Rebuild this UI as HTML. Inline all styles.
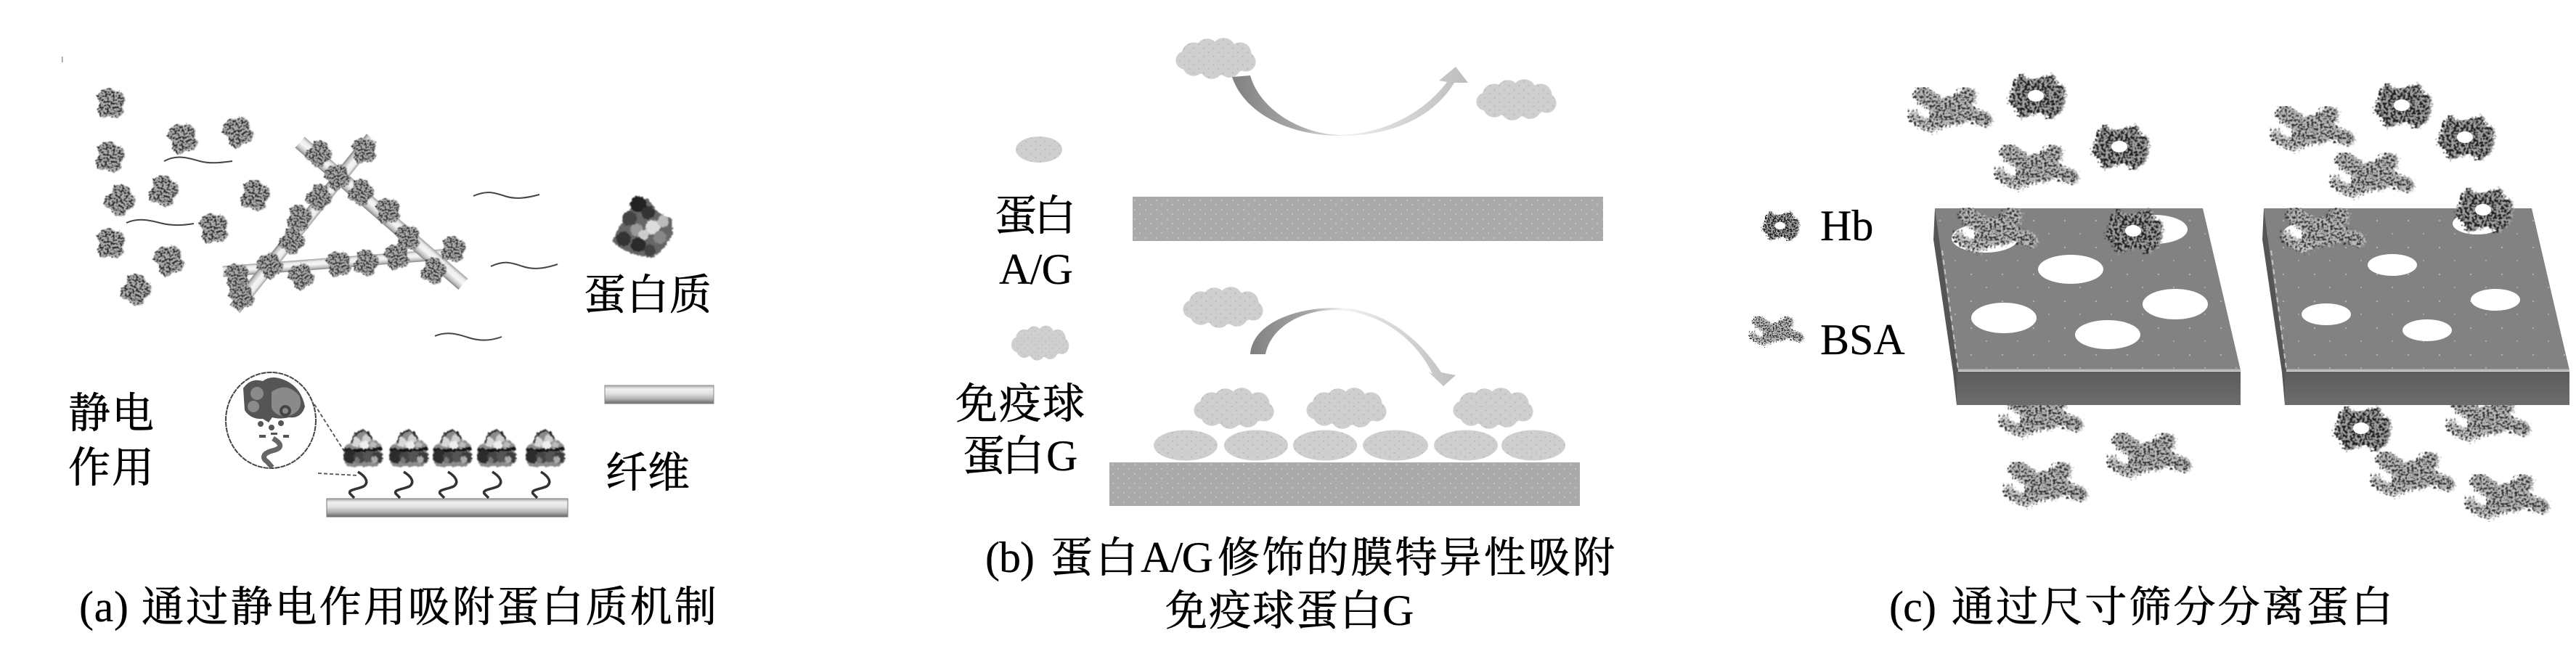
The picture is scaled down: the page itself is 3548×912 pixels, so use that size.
<!DOCTYPE html>
<html><head><meta charset="utf-8"><style>
html,body{margin:0;padding:0;background:#fff}
svg{display:block}
text{font-family:"Liberation Serif","Noto Serif CJK SC",serif;fill:#000;font-size:58px;stroke:#000;stroke-width:.7px}
text.l{stroke-width:.25px;font-size:60px}
</style></head><body>
<svg xmlns="http://www.w3.org/2000/svg" width="3548" height="912" viewBox="0 0 3548 912">
<defs>
<filter id="soft" x="-15%" y="-15%" width="130%" height="130%" color-interpolation-filters="sRGB">
<feTurbulence type="fractalNoise" baseFrequency=".3" numOctaves="2" seed="2" result="n"/>
<feDisplacementMap in="SourceGraphic" in2="n" scale="5" xChannelSelector="R" yChannelSelector="G" result="d"/>
<feGaussianBlur in="d" stdDeviation=".8"/>
</filter>
<filter id="mH" x="-25%" y="-25%" width="150%" height="150%" color-interpolation-filters="sRGB">
<feTurbulence type="fractalNoise" baseFrequency=".3" numOctaves="2" seed="3" result="n"/>
<feDisplacementMap in="SourceGraphic" in2="n" scale="14" xChannelSelector="R" yChannelSelector="G" result="d"/>
<feColorMatrix in="n" type="matrix" values="0 0 0 0 .1  0 0 0 0 .1  0 0 0 0 .1  9 0 0 0 -4.2" result="s"/>
<feComposite in="s" in2="d" operator="in" result="sp"/>
<feMerge result="m"><feMergeNode in="d"/><feMergeNode in="sp"/></feMerge>
<feGaussianBlur in="m" stdDeviation=".6"/>
</filter>
<filter id="mB" x="-25%" y="-25%" width="150%" height="150%" color-interpolation-filters="sRGB">
<feTurbulence type="fractalNoise" baseFrequency=".33" numOctaves="2" seed="8" result="n"/>
<feDisplacementMap in="SourceGraphic" in2="n" scale="16" xChannelSelector="R" yChannelSelector="G" result="d"/>
<feColorMatrix in="n" type="matrix" values="0 0 0 0 .18  0 0 0 0 .18  0 0 0 0 .18  9 0 0 0 -4.4" result="s"/>
<feComposite in="s" in2="d" operator="in" result="sp"/>
<feMerge result="m"><feMergeNode in="d"/><feMergeNode in="sp"/></feMerge>
<feGaussianBlur in="m" stdDeviation=".6"/>
</filter>
<filter id="mP" x="-25%" y="-25%" width="150%" height="150%" color-interpolation-filters="sRGB">
<feTurbulence type="fractalNoise" baseFrequency=".38" numOctaves="2" seed="5" result="n"/>
<feDisplacementMap in="SourceGraphic" in2="n" scale="6" xChannelSelector="R" yChannelSelector="G" result="d"/>
<feColorMatrix in="n" type="matrix" values="0 0 0 0 .12  0 0 0 0 .12  0 0 0 0 .12  9 0 0 0 -4.4" result="s"/>
<feComposite in="s" in2="d" operator="in" result="sp"/>
<feMerge result="m"><feMergeNode in="d"/><feMergeNode in="sp"/></feMerge>
<feGaussianBlur in="m" stdDeviation=".5"/>
</filter>
<linearGradient id="rod" x1="0" y1="0" x2="0" y2="1"><stop offset="0" stop-color="#a0a0a0"/><stop offset=".22" stop-color="#ececec"/><stop offset=".5" stop-color="#f6f6f6"/><stop offset=".8" stop-color="#c4c4c4"/><stop offset="1" stop-color="#858585"/></linearGradient>
<linearGradient id="rodh" x1="0" y1="0" x2="0" y2="1"><stop offset="0" stop-color="#aaa"/><stop offset=".2" stop-color="#f0f0f0"/><stop offset=".45" stop-color="#e2e2e2"/><stop offset=".75" stop-color="#b0b0b0"/><stop offset="1" stop-color="#666"/></linearGradient>
<linearGradient id="ar1" gradientUnits="userSpaceOnUse" x1="1696" y1="0" x2="2022" y2="0"><stop offset="0" stop-color="#808080"/><stop offset=".3" stop-color="#aaa"/><stop offset=".48" stop-color="#f0f0f0"/><stop offset=".65" stop-color="#dcdcdc"/><stop offset="1" stop-color="#bdbdbd"/></linearGradient>
<linearGradient id="ar2" gradientUnits="userSpaceOnUse" x1="1722" y1="0" x2="2005" y2="0"><stop offset="0" stop-color="#808080"/><stop offset=".3" stop-color="#a8a8a8"/><stop offset=".45" stop-color="#f4f4f4"/><stop offset=".65" stop-color="#dcdcdc"/><stop offset="1" stop-color="#c0c0c0"/></linearGradient>
<linearGradient id="front" x1="0" y1="0" x2="0" y2="1"><stop offset="0" stop-color="#5c5c5c"/><stop offset="1" stop-color="#6c6c6c"/></linearGradient>
<pattern id="st1" width="13" height="11" patternUnits="userSpaceOnUse"><rect width="13" height="11" fill="#cfcfcf"/><circle cx="3" cy="2.5" r="1.1" fill="#bababa"/><circle cx="9.5" cy="8" r="1.1" fill="#bababa"/></pattern>
<pattern id="st2" width="15" height="13" patternUnits="userSpaceOnUse"><rect width="15" height="13" fill="#aaa"/><circle cx="3" cy="3" r="1.1" fill="#c6c6c6"/><circle cx="10" cy="9" r="1.1" fill="#c6c6c6"/></pattern>
<pattern id="st3" width="43" height="37" patternUnits="userSpaceOnUse"><rect width="43" height="37" fill="#828282"/><circle cx="6" cy="8" r="1.2" fill="#b0b0b0"/><circle cx="27" cy="26" r="1.2" fill="#a8a8a8"/></pattern>
<g id="p"><g filter="url(#mP)">
<path d="M-13,-18 L-3,-21 L6,-16 L15,-15 L20,-4 L15,5 L18,14 L8,21 L-2,17 L-12,21 L-19,10 L-15,0 L-20,-9Z" fill="#b4b4b4"/>
</g></g>
<g id="q"><g filter="url(#soft)">
<path d="M-26,4 Q-26,-6 -16,-8 Q-14,-22 0,-25 Q10,-22 12,-12 Q26,-12 26,4 Q30,20 18,25 L-18,25 Q-30,20 -26,4Z" fill="#8c8c8c"/>
<circle cx="-10" cy="-9" r="7" fill="#d8d8d8"/><circle cx="5" cy="-14" r="6" fill="#cfcfcf"/><circle cx="14" cy="-5" r="5" fill="#bbb"/><circle cx="2" cy="-5" r="6" fill="#eee"/>
<path d="M-26,1 Q0,5 26,0" stroke="#111" stroke-width="4" fill="none"/>
<circle cx="-18" cy="11" r="9" fill="#2c2c2c"/><circle cx="-5" cy="12" r="8" fill="#444"/><circle cx="8" cy="11" r="8" fill="#555"/><circle cx="19" cy="12" r="8" fill="#3c3c3c"/>
<circle cx="16" cy="15" r="5" fill="#aaa"/><circle cx="-8" cy="16" r="4" fill="#777"/>
<path d="M-16,-8 Q-14,-22 0,-25 Q10,-22 12,-12" stroke="#222" stroke-width="2.5" fill="none"/>
</g></g>
<path id="sq" d="M0,0 C10,6 16,14 8,20 C0,24 -14,24 -11,30 L-5,36" stroke="#333" stroke-width="3.5" fill="none"/>
<g id="hb">
<g filter="url(#mH)"><path d="M-36,-8 L-30,-24 L-20,-30 L-12,-22 L0,-24 L22,-30 L28,-18 L40,-10 L38,6 L34,22 L20,32 L4,24 L-8,26 L-24,32 L-30,16 L-40,8Z" fill="#a4a4a4"/></g>
<ellipse cx="-2" cy="0" rx="11" ry="8" fill="#fff"/>
</g>
<g id="bsa"><g filter="url(#mB)" fill="none" stroke="#bcbcbc" stroke-linecap="round">
<path d="M-40,-20 L-14,-3 L12,8" stroke-width="24"/>
<path d="M22,-18 L4,-4 L-18,14" stroke-width="26"/>
<path d="M6,-4 L46,14" stroke-width="20"/>
<ellipse cx="-4" cy="2" rx="26" ry="20" fill="#bcbcbc" stroke="none"/>
<path d="M-52,8 Q-42,20 -26,24" stroke-width="15" stroke="#ccc"/>
</g></g>
<g id="cl" transform="scale(1.03)">
<ellipse cx="0" cy="0" rx="50" ry="22"/><circle cx="-30" cy="-6" r="16"/><circle cx="-12" cy="-12" r="15"/><circle cx="10" cy="-12" r="16"/><circle cx="32" cy="-7" r="15"/><circle cx="40" cy="4" r="13"/><circle cx="18" cy="10" r="15"/><circle cx="-6" cy="12" r="15"/><circle cx="-30" cy="8" r="15"/><circle cx="-42" cy="2" r="12"/>
</g>
</defs>

<rect width="3548" height="912" fill="#fff"/>

<!-- panel a -->
<rect x="85" y="78" width="1.5" height="8" fill="#999"/>
<g transform="translate(153,142)"><use href="#p"/></g>
<g transform="translate(252,190) rotate(-20)"><use href="#p"/></g>
<g transform="translate(328,181) rotate(-30)"><use href="#p"/></g>
<g transform="translate(152,216) rotate(10)"><use href="#p"/></g>
<g transform="translate(226,263) rotate(20)"><use href="#p"/></g>
<g transform="translate(166,276) rotate(40)"><use href="#p"/></g>
<g transform="translate(352,269) rotate(15)"><use href="#p"/></g>
<g transform="translate(295,314) rotate(-10)"><use href="#p"/></g>
<g transform="translate(153,335)"><use href="#p"/></g>
<g transform="translate(233,358) rotate(-25)"><use href="#p"/></g>
<g transform="translate(188,399) rotate(30)"><use href="#p"/></g>

<g fill="none" stroke="#444" stroke-width="2">
<path d="M226,222 C245,212 260,218 275,222 C290,226 305,224 320,222"/>
<path d="M174,307 C190,300 205,303 220,307 C235,311 250,311 267,308"/>
<path d="M652,270 C670,262 680,265 695,270 C710,275 725,273 743,268"/>
<path d="M676,367 C695,358 705,362 720,367 C735,372 750,370 768,364"/>
<path d="M599,463 C615,456 630,460 645,465 C660,470 675,470 691,464"/>
</g>

<rect x="0" y="-7.5" width="311" height="15" fill="url(#rod)" transform="translate(307,374) rotate(-4.4)"/>
<rect x="0" y="-9" width="302" height="18" fill="url(#rod)" transform="translate(512,190) rotate(128.7)"/>
<rect x="0" y="-10" width="298" height="20" fill="url(#rod)" transform="translate(413,196) rotate(41)"/>
<g>
<g transform="translate(440,212) rotate(40) scale(.85)"><use href="#p"/></g>
<g transform="translate(502,207) rotate(-10) scale(.85)"><use href="#p"/></g>
<g transform="translate(465,243) rotate(-30) scale(.85)"><use href="#p"/></g>
<g transform="translate(498,265) rotate(30) scale(.85)"><use href="#p"/></g>
<g transform="translate(535,290) rotate(-10) scale(.85)"><use href="#p"/></g>
<g transform="translate(440,272) rotate(40) scale(.85)"><use href="#p"/></g>
<g transform="translate(413,300) rotate(15) scale(.85)"><use href="#p"/></g>
<g transform="translate(403,332) rotate(35) scale(.85)"><use href="#p"/></g>
<g transform="translate(562,327) rotate(-10) scale(.85)"><use href="#p"/></g>
<g transform="translate(625,343) rotate(10) scale(.85)"><use href="#p"/></g>
<g transform="translate(598,373) rotate(25) scale(.85)"><use href="#p"/></g>
<g transform="translate(547,353) rotate(-20) scale(.85)"><use href="#p"/></g>
<g transform="translate(505,362) rotate(20) scale(.85)"><use href="#p"/></g>
<g transform="translate(467,363) rotate(-15) scale(.85)"><use href="#p"/></g>
<g transform="translate(415,380) rotate(-35) scale(.85)"><use href="#p"/></g>
<g transform="translate(372,365) rotate(-40) scale(.85)"><use href="#p"/></g>
<g transform="translate(327,380) rotate(-10) scale(.85)"><use href="#p"/></g>
<g transform="translate(333,408) rotate(-25) scale(.85)"><use href="#p"/></g>
</g>

<!-- big protein -->
<g transform="translate(885,313)" filter="url(#soft)">
<path d="M-10,-42 L8,-38 L22,-20 L40,-12 L42,10 L30,28 L14,42 L-10,38 L-28,30 L-42,20 L-30,-4 L-18,-22Z" fill="#666"/>
<circle cx="-6" cy="-32" r="11" fill="#222"/><circle cx="8" cy="-20" r="9" fill="#333"/><circle cx="-18" cy="-12" r="10" fill="#444"/>
<circle cx="14" cy="0" r="10" fill="#ddd"/><circle cx="28" cy="-8" r="8" fill="#bbb"/><circle cx="24" cy="14" r="9" fill="#888"/>
<circle cx="-8" cy="4" r="9" fill="#999"/><circle cx="-26" cy="16" r="10" fill="#333"/><circle cx="-6" cy="24" r="10" fill="#2a2a2a"/><circle cx="10" cy="32" r="8" fill="#444"/><circle cx="2" cy="10" r="7" fill="#ccc"/>
</g>

<!-- magnified circle -->
<ellipse cx="373" cy="579" rx="62" ry="66" fill="#fff" stroke="#444" stroke-width="2" stroke-dasharray="7 1"/>
<path d="M335,535 Q345,520 362,525 Q375,515 395,525 Q415,535 420,560 Q415,577 398,575 Q385,578 375,575 L370,582 L362,577 Q345,578 337,565Z" fill="#555"/>
<path d="M374,540 Q395,525 412,545 Q420,565 398,573 Q380,575 374,562Z" fill="#8a8a8a"/>
<circle cx="354" cy="542" r="9" fill="#8a8a8a"/><circle cx="349" cy="560" r="8" fill="#8a8a8a"/><circle cx="393" cy="566" r="8" fill="#444"/><circle cx="393" cy="566" r="4" fill="#888"/>
<g fill="#555"><circle cx="359" cy="584" r="4"/><circle cx="387" cy="583" r="4"/><circle cx="374" cy="589" r="4"/><rect x="357" y="599" width="9" height="4"/><rect x="373" y="596" width="9" height="3"/><rect x="390" y="599" width="8" height="4"/></g>
<path d="M376,604 C390,612 388,618 375,621 C360,625 362,632 368,636 L375,644" fill="none" stroke="#666" stroke-width="7"/>
<path d="M433,557 L475,623 M438,652 L493,655" stroke="#555" stroke-width="1.8" stroke-dasharray="5 3" fill="none"/>

<!-- row proteins -->
<use href="#sq" x="493" y="650"/><use href="#sq" x="556" y="650"/><use href="#sq" x="617" y="650"/><use href="#sq" x="678" y="650"/><use href="#sq" x="745" y="650"/>
<use href="#q" x="500" y="618"/><use href="#q" x="563" y="618"/><use href="#q" x="623" y="618"/><use href="#q" x="684" y="618"/><use href="#q" x="751" y="618"/>
<rect x="450" y="687" width="332" height="25" fill="url(#rodh)" stroke="#777" stroke-width="1"/>
<rect x="833" y="531" width="150" height="25" fill="url(#rodh)" stroke="#888" stroke-width="1"/>

<text x="804" y="426" textLength="176">蛋白质</text>
<text x="94" y="589" textLength="118">静电</text>
<text x="94" y="664" textLength="118">作用</text>
<text x="834" y="671" textLength="116">纤维</text>
<text x="109" y="856" class="l" textLength="68">(a)</text>
<text x="195" y="856" textLength="792">通过静电作用吸附蛋白质机制</text>

<!-- panel b -->
<g fill="url(#st1)">
<use href="#cl" transform="translate(1675,81)"/>
<use href="#cl" transform="translate(2089,138)"/>
<use href="#cl" transform="translate(1685,424)"/>
<use href="#cl" transform="translate(1433,473) scale(.72,.85)"/>
<use href="#cl" transform="translate(1700,563)"/>
<use href="#cl" transform="translate(1855,563)"/>
<use href="#cl" transform="translate(2057,563)"/>
<ellipse cx="1431" cy="206" rx="32" ry="18"/>
<ellipse cx="1633" cy="613.5" rx="44" ry="21"/>
<ellipse cx="1730" cy="613.5" rx="44" ry="21"/>
<ellipse cx="1825" cy="613.5" rx="44" ry="21"/>
<ellipse cx="1922" cy="613.5" rx="45" ry="21"/>
<ellipse cx="2019" cy="613.5" rx="44" ry="21"/>
<ellipse cx="2112" cy="613.5" rx="44" ry="21"/>
</g>
<rect x="1560" y="271" width="648" height="61" fill="url(#st2)"/>
<rect x="1528" y="637" width="648" height="60" fill="url(#st2)"/>
<path d="M1697,106 C1712,152 1770,187 1847,187 C1920,187 1975,160 2003,114 L2022,114 L2005,92 L1982,111 L1993,113 C1965,150 1915,183 1847,186 C1790,185 1735,150 1722,104Z" fill="url(#ar1)"/>
<path transform="translate(0,-3)" d="M1722,491 C1725,450 1780,427 1840,427 C1905,427 1955,470 1985,516 L2005,520 L1988,535 L1967,515 L1973,518 C1950,470 1900,432 1840,430 C1790,430 1750,455 1743,491Z" fill="url(#ar2)"/>

<text x="1370" y="317" textLength="112">蛋白</text>
<text x="1376" y="391" class="l" textLength="102">A/G</text>
<text x="1316" y="576" textLength="178">免疫球</text>
<text x="1326" y="648" textLength="112">蛋白</text>
<text x="1441" y="648" class="l">G</text>
<text x="1357" y="788" class="l" textLength="68">(b)</text>
<text x="1447" y="788" textLength="120">蛋白</text>
<text x="1571" y="788" class="l" textLength="100">A/G</text>
<text x="1677" y="788" textLength="547">修饰的膜特异性吸附</text>
<text x="1605" y="861" textLength="298">免疫球蛋白</text>
<text x="1904" y="861" class="l">G</text>

<!-- panel c -->
<use href="#hb" x="2806" y="132"/><use href="#hb" x="2921" y="202"/><use href="#hb" x="3310" y="145"/><use href="#hb" x="3397" y="189"/>
<use href="#bsa" x="2688" y="151"/><use href="#bsa" x="2807" y="230"/><use href="#bsa" x="3187" y="177"/><use href="#bsa" x="3269" y="241"/>
<use href="#bsa" x="2813" y="571"/><use href="#bsa" x="2962" y="627"/><use href="#bsa" x="2819" y="667"/><use href="#bsa" x="3429" y="577"/><use href="#bsa" x="3325" y="653"/><use href="#bsa" x="3455" y="684"/>
<use href="#hb" x="3254" y="590"/>

<!-- plates -->
<path d="M2665,287 L3034,287 L3086,510 L2697,510Z" fill="url(#st3)"/>
<path d="M2665,287 L2663,330 L2690,513 L2695,558 L2697,510Z" fill="#555"/>
<path d="M2675,345 L2697,508" stroke="#c4c4c4" stroke-width="2" stroke-dasharray="7 6"/>
<rect x="2695" y="512" width="391" height="46" fill="url(#front)"/>
<path d="M2697,510 L3086,510" stroke="#b8b8b8" stroke-width="3"/>
<path d="M3118,287 L3487,287 L3539,510 L3149,510Z" fill="url(#st3)"/>
<path d="M3118,287 L3116,330 L3143,513 L3147,558 L3149,510Z" fill="#555"/>
<path d="M3128,345 L3149,508" stroke="#c4c4c4" stroke-width="2" stroke-dasharray="7 6"/>
<rect x="3147" y="512" width="392" height="46" fill="url(#front)"/>
<path d="M3149,510 L3539,510" stroke="#b8b8b8" stroke-width="3"/>
<g fill="#fff">
<ellipse cx="2734" cy="328" rx="46" ry="20"/><ellipse cx="2967" cy="316" rx="46" ry="20"/><ellipse cx="2852" cy="371" rx="45" ry="20"/><ellipse cx="2760" cy="438" rx="45" ry="21"/><ellipse cx="2996" cy="419" rx="45" ry="21"/><ellipse cx="2903" cy="461" rx="45" ry="20"/>
<ellipse cx="3179" cy="321" rx="34" ry="15"/><ellipse cx="3412" cy="308" rx="34" ry="15"/><ellipse cx="3295" cy="365" rx="34" ry="15"/><ellipse cx="3204" cy="433" rx="34" ry="15"/><ellipse cx="3437" cy="413" rx="34" ry="15"/><ellipse cx="3343" cy="455" rx="34" ry="15"/>
</g>
<use href="#bsa" x="2750" y="317"/><use href="#bsa" x="3201" y="317"/>
<use href="#hb" x="2940" y="318"/><use href="#hb" x="3422" y="289"/>

<g transform="translate(2453,311) scale(.65)"><use href="#hb"/></g>
<g transform="translate(2448,456) scale(.65)"><use href="#bsa"/></g>
<text x="2507" y="331" class="l">Hb</text>
<text x="2507" y="488" class="l">BSA</text>
<text x="2602" y="856" class="l" textLength="65">(c)</text>
<text x="2688" y="856" textLength="608">通过尺寸筛分分离蛋白</text>
</svg>
</body></html>
